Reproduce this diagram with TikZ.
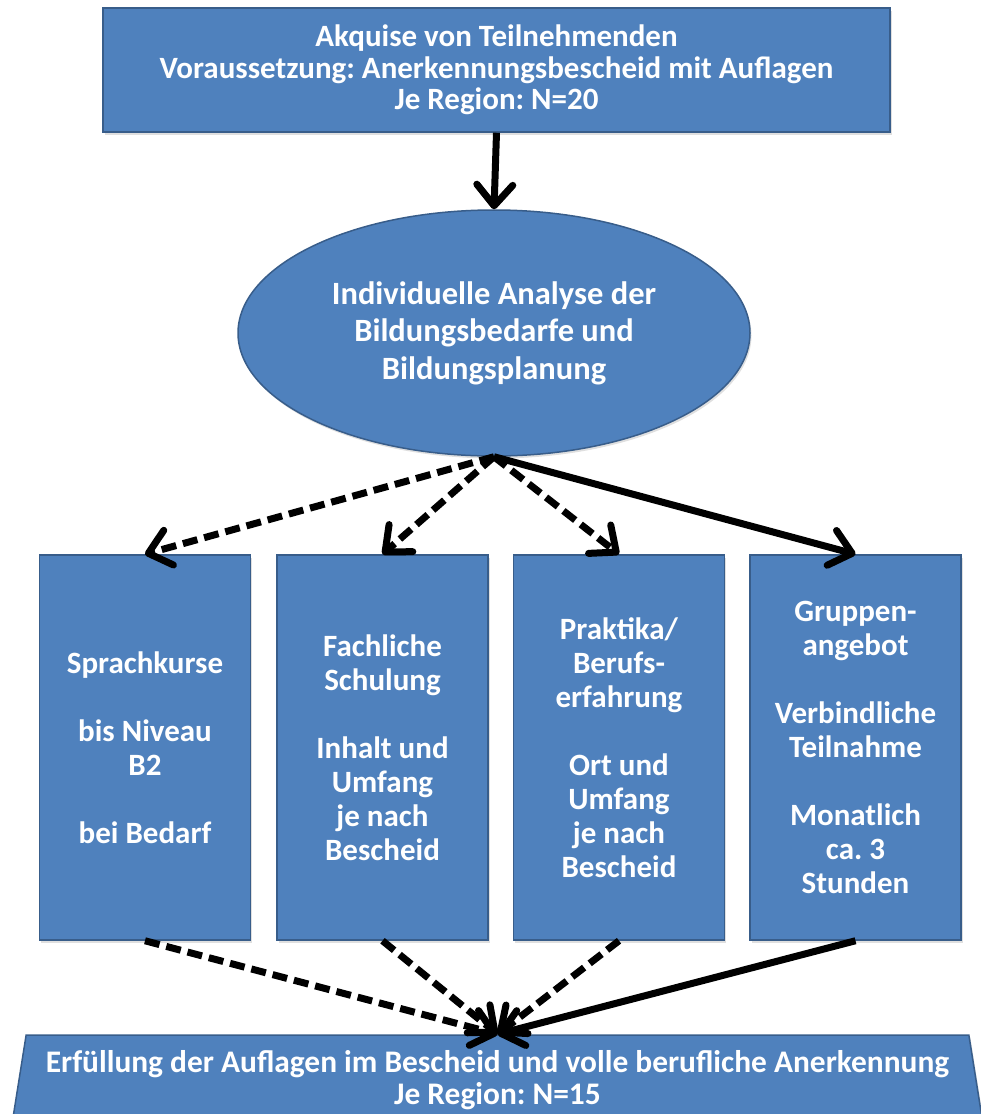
\documentclass[tikz,border=0pt]{standalone}
\usepackage{fontspec}
\setmainfont{Carlito}
\usetikzlibrary{arrows.meta,shapes.geometric,shadows}
\definecolor{boxblue}{HTML}{4F81BD}
\definecolor{boxedge}{HTML}{385D8A}
\frenchspacing
\begin{document}
\begin{tikzpicture}[x=1pt,y=-1pt,
  blueshape/.style={fill=boxblue,draw=boxedge,line width=1.5pt,text=white,
    font=\bfseries\fontsize{31}{34}\selectfont,align=center,inner sep=0pt,
    drop shadow={opacity=0.25,shadow xshift=1.5pt,shadow yshift=-2.5pt}},
  colbox/.style={blueshape,minimum width=211pt,minimum height=385pt},
  conn/.style={line width=7pt,-{Straight Barb[length=21pt,width=36pt,round]}},
  dconn/.style={conn,dash pattern=on 15pt off 7pt}]
\useasboundingbox (0,0) rectangle (981,1114);
\node[blueshape,minimum width=787pt,minimum height=124pt,
  font=\bfseries\fontsize{31}{31.5}\selectfont] (top) at (496.5,70)
  {Akquise von Teilnehmenden\\Voraussetzung: Anerkennungsbescheid mit Auflagen\\Je Region: N=20};
\node[blueshape,ellipse,minimum width=512pt,minimum height=246pt,
  font=\bfseries\fontsize{32.5}{37.5}\selectfont] (ana) at (494,333)
  {Individuelle Analyse der\\Bildungsbedarfe und\\Bildungsplanung};
\node[colbox] (b1) at (145,747.5) {Sprachkurse\\[34pt]bis Niveau\\B2\\[34pt]bei Bedarf};
\node[colbox] (b2) at (382.5,747.5) {Fachliche\\Schulung\\[34pt]Inhalt und\\Umfang\\je nach\\Bescheid};
\node[colbox] (b3) at (619,747.5) {Praktika/\\Berufs-\\erfahrung\\[34pt]Ort und\\Umfang\\je nach\\Bescheid};
\node[colbox] (b4) at (855.5,747.5) {Gruppen-\\angebot\\[34pt]Verbindliche\\Teilnahme\\[34pt]Monatlich\\ca. 3\\Stunden};
\node[blueshape,trapezium,trapezium angle=77,trapezium stretches=true,
  minimum width=977pt,minimum height=90pt,
  font=\bfseries\fontsize{31.4}{32}\selectfont] (end) at (497.5,1080)
  {Erfüllung der Auflagen im Bescheid und volle berufliche Anerkennung\\Je Region: N=15};
\draw[conn] (top.south) -- (ana.north);
\draw[dconn] (ana.south) -- (b1.north);
\draw[dconn] (ana.south) -- (b2.north);
\draw[dconn] (ana.south) -- (b3.north);
\draw[conn] (ana.south) -- (b4.north);
\draw[dconn] (b1.south) -- (end.north);
\draw[dconn] (b2.south) -- (end.north);
\draw[dconn] (b3.south) -- (end.north);
\draw[conn] (b4.south) -- (end.north);
\end{tikzpicture}
\end{document}
